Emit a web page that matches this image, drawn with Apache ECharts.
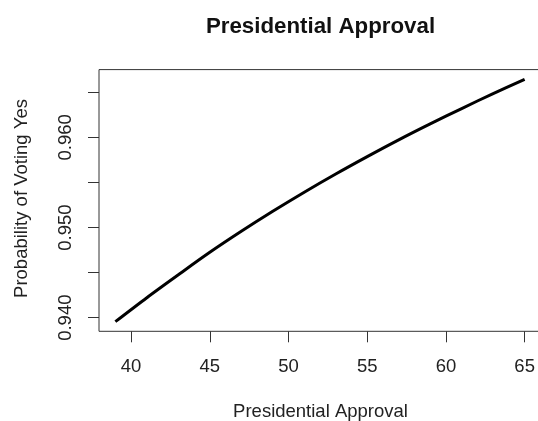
<!DOCTYPE html>
<html>
<head>
<meta charset="utf-8">
<script src="https://cdn.jsdelivr.net/npm/echarts@6/dist/echarts.min.js"></script>
<style>
html,body{margin:0;padding:0;background:#fff;}
#chart{width:538px;height:421px;}
</style>
</head>
<body>
<div id="chart"></div>
<script>
// Data
const approval = [39, 41, 43, 45, 47, 49, 51, 53, 55, 57, 59, 61, 63, 65];
const probYes = [0.93956, 0.94222, 0.94476, 0.94725, 0.94958, 0.95180, 0.95392, 0.95594, 0.95787, 0.95973, 0.96150, 0.96320, 0.96486, 0.96644];
const xTicks = [40, 45, 50, 55, 60, 65];
const yTicks = [0.940, 0.945, 0.950, 0.955, 0.960, 0.965];
const yLabels = [0.940, 0.950, 0.960];
const chartTitle = 'Presidential Approval';
const xTitle = 'Presidential Approval';
const yTitle = 'Probability of Voting Yes';

const FONT = '"Liberation Sans", Arial, Helvetica, sans-serif';
const INK = '#222';
const AXIS = '#333';

const chart = echarts.init(document.getElementById('chart'), null, {renderer: 'canvas'});
chart.setOption({
  animation: false,
  backgroundColor: '#fff',
  grid: {
    left: 99, top: 69.6, width: 442, height: 261.7,
    outerBoundsMode: 'none', containLabel: false,
    show: true, borderColor: AXIS, borderWidth: 1, backgroundColor: 'transparent'
  },
  xAxis: {
    type: 'value', min: 37.96, max: 66.04,
    axisLine: {show: false},
    splitLine: {show: false},
    axisTick: {show: true, inside: false, length: 11, lineStyle: {color: AXIS, width: 1}, customValues: xTicks},
    axisLabel: {show: true, customValues: xTicks, margin: 26, fontSize: 18.5, color: INK, fontFamily: FONT,
      formatter: v => String(v)}
  },
  yAxis: {
    type: 'value', min: 0.93849, max: 0.96752,
    axisLine: {show: false},
    splitLine: {show: false},
    axisTick: {show: true, inside: false, length: 11, lineStyle: {color: AXIS, width: 1}, customValues: yTicks},
    axisLabel: {show: true, customValues: yLabels, rotate: 90, margin: 24, fontSize: 18.5, color: INK, fontFamily: FONT,
      formatter: v => Number(v).toFixed(3)}
  },
  series: [{
    type: 'line',
    data: approval.map((x, i) => [x, probYes[i]]),
    smooth: 0.3,
    showSymbol: false,
    lineStyle: {color: '#000', width: 3},
    clip: false
  }],
  graphic: [
    {type: 'text', x: 320.5, y: 26.5, style: {text: chartTitle, font: 'bold 22.3px ' + FONT, fill: '#111', textAlign: 'center', textVerticalAlign: 'middle'}},
    {type: 'text', x: 320.5, y: 411.7, style: {text: xTitle, font: '18.5px ' + FONT, fill: INK, textAlign: 'center', textVerticalAlign: 'middle'}},
    {type: 'text', x: 21.7, y: 198.5, rotation: Math.PI / 2, style: {text: yTitle, font: '18.5px ' + FONT, fill: INK, textAlign: 'center', textVerticalAlign: 'middle'}}
  ]
});
</script>
</body>
</html>
